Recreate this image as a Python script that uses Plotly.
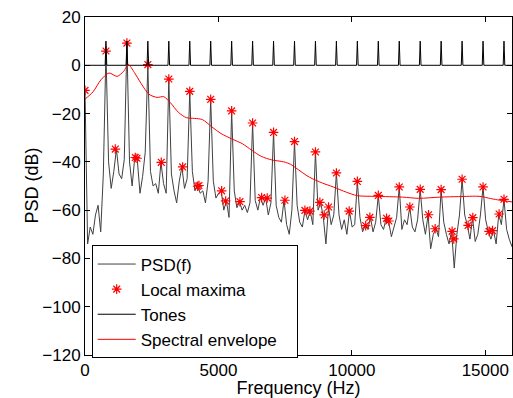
import numpy as np
import plotly.graph_objects as go

# ---------------- data ----------------
f0 = 785.0            # fundamental (Hz)
psd_df = 98.125       # PSD bin spacing (Hz) = f0/8

psd_db = [
    -10.4, -74, -67, -70, -62, -58, -69, -45,
    5.9, -40, -51, -44, -34.7, -45, -47, -39,
    9.2, -40, -50, -38.2, -39.5, -53, -46, -36,
    0.3, -44, -50, -49, -53, -40.2, -49, -53,
    -5.7, -45, -52, -57, -48, -42.1, -51, -47,
    -10.8, -44, -52, -49.8, -53, -52, -57, -48,
    -14.1, -48, -55, -53, -52, -60, -56.2, -63,
    -18.9, -52, -59, -56.5, -60, -58, -61, -57,
    -23.9, -56, -60, -54.8, -58, -55, -62, -57,
    -27.8, -58, -63, -65, -55.9, -66, -70, -60,
    -31.6, -58, -65, -67, -60.1, -64, -60.4, -66,
    -35.9, -60, -56.8, -63, -74, -58.7, -66, -62,
    -44.6, -62, -68, -64, -70, -60.4, -67, -66,
    -48.1, -63, -69, -66.4, -68, -63, -69, -65,
    -53.9, -66, -68, -63.4, -65, -71, -67, -63,
    -50.4, -68, -64, -66, -58.7, -67, -69, -64,
    -51.4, -64, -70, -61.9, -76, -70, -67.7, -71,
    -51.5, -65, -70, -74, -68.8, -84, -70, -62,
    -47.2, -62, -66.3, -72, -63.1, -73, -70, -62,
    -50.4, -64, -68.8, -72, -68.5, -74, -61.6, -66,
    -55.5, -68, -72, -75, -71,
]

maxima_freq = [
    0, 785, 1570, 2355, 3140, 3925, 4710, 5495, 6280, 7065, 7850,
    8635, 9420, 10205, 10990, 11775, 12560, 13345, 14130, 14915, 15700,
    1135, 1884, 1948, 2858, 3659, 4221, 4270, 5120, 5270, 5805,
    6618, 6828, 7491, 8240, 8427, 8801, 8963, 9127, 9899, 10517,
    10674, 11300, 11386, 12172, 12873, 13120, 13757, 13820, 14356, 14532,
    15142, 15270, 15517,
]
maxima_db = [
    -10.4, 5.9, 9.2, 0.3, -5.7, -10.8, -14.1, -18.9, -23.9, -27.8, -31.6,
    -35.9, -44.6, -48.1, -53.9, -50.4, -51.4, -51.5, -47.2, -50.4, -55.5,
    -34.7, -38.2, -38.5, -40.2, -42.1, -50.1, -49.8, -52.0, -56.2, -56.5,
    -54.8, -55.0, -55.9, -60.1, -60.4, -56.8, -62.0, -58.7, -60.4, -66.4,
    -63.0, -63.4, -64.5, -58.7, -61.9, -67.7, -68.8, -71.9, -66.3, -63.1,
    -68.8, -68.5, -61.6,
]

tone_freq = [785, 1570, 2355, 3140, 3925, 4710, 5495, 6280, 7065, 7850,
             8635, 9420, 10205, 10990, 11775, 12560, 13345, 14130, 14915, 15700]
tone_db = [10] * 20

env_freq = [0, 300, 600, 900, 1200, 1450, 1620, 1850, 2100, 2400, 2700, 2950,
            3200, 3500, 3800, 4100, 4400, 4750, 5100, 5500, 5900, 6250, 6600,
            7000, 7450, 7700, 7900, 8400, 8900, 9300, 9800, 10200, 10900,
            11900, 12500, 13300, 14000, 14800, 15200, 15550, 16000]
env_db = [-14, -11, -6, -3.2, -4.6, -2.5, 0.3, -3, -7.5, -12, -13.3, -13,
          -15.5, -19.5, -21.7, -22, -22.5, -25.5, -28.3, -30.5, -32.5, -35.2, -37.7,
          -39.2, -40, -41, -42.5, -46.3, -48.8, -50.4, -52.6, -54, -54.3,
          -54.6, -55.1, -54.6, -54.4, -54.3, -55.2, -55.9, -56.6]

# ---------------- build traces ----------------
psd_freq = np.arange(len(psd_db)) * psd_df

half_w = 30.0
tx, ty = [0.0], [0.0]
for f, a in zip(tone_freq, tone_db):
    tx += [f - half_w, f, f + half_w]
    ty += [0.0, a, 0.0]
tx.append(16000.0)
ty.append(0.0)

FONT = "Liberation Sans, Arial, Helvetica, sans-serif"

fig = go.Figure()
fig.add_trace(go.Scatter(x=psd_freq, y=psd_db, mode="lines", name="PSD(f)",
                         line=dict(color="#404040", width=1)))
fig.add_trace(go.Scatter(x=maxima_freq, y=maxima_db, mode="markers", name="Local maxima",
                         marker=dict(symbol="asterisk-open", size=8, color="red",
                                     line=dict(color="red", width=1.2))))
fig.add_trace(go.Scatter(x=tx, y=ty, mode="lines", name="Tones",
                         line=dict(color="black", width=1)))
fig.add_trace(go.Scatter(x=env_freq, y=env_db, mode="lines", name="Spectral envelope   ",
                         line=dict(color="red", width=1, shape="spline", smoothing=0.8)))

axis_common = dict(showline=True, linecolor="black", linewidth=1, mirror="allticks",
                   ticks="inside", ticklen=5, tickcolor="black", showgrid=False,
                   zeroline=False, automargin=False,
                   tickfont=dict(family=FONT, size=17, color="black"))

fig.update_layout(
    width=513, height=398,
    margin=dict(l=85, r=1, t=17, b=43, autoexpand=False),
    paper_bgcolor="white", plot_bgcolor="white",
    font=dict(family=FONT, size=17, color="black"),
    xaxis=dict(range=[0, 16000], tickvals=[0, 5000, 10000, 15000],
               ticktext=["0", "5000", "10000", "15000"],
               title=dict(text="Frequency (Hz)", font=dict(family=FONT, size=18)),
               **axis_common),
    yaxis=dict(range=[-120, 20], tickvals=list(range(-120, 21, 20)),
               **axis_common),
    legend=dict(x=0.0157, y=0.324, xanchor="left", yanchor="top",
                bgcolor="white", bordercolor="black", borderwidth=1, itemwidth=38,
                font=dict(family=FONT, size=17), tracegroupgap=0),
    showlegend=True,
    annotations=[dict(text="PSD (dB)", textangle=-90, xref="paper", yref="paper",
                      x=-0.123, y=0.503, xanchor="center", yanchor="middle",
                      showarrow=False, font=dict(family=FONT, size=18, color="black"))],
)

fig.write_html("out.html", config={"displayModeBar": False},
               post_script="document.body.style.margin='0';document.body.style.overflow='hidden';")
